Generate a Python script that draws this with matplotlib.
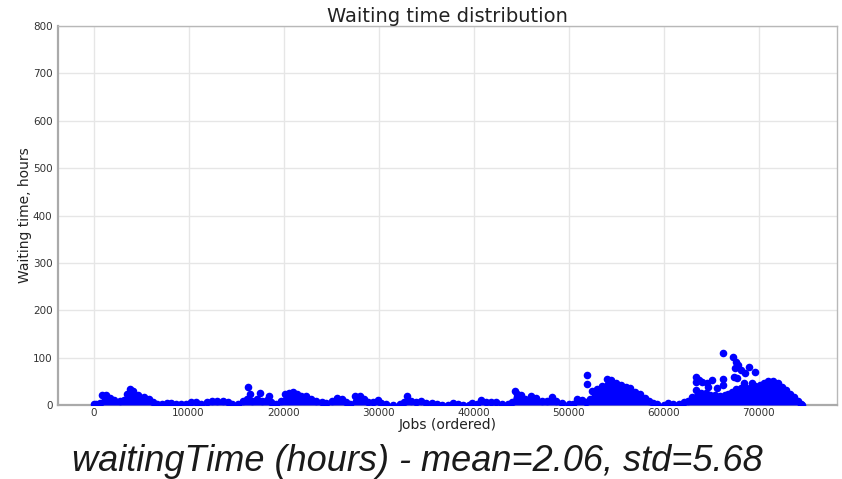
import matplotlib
matplotlib.use("Agg")
import matplotlib.pyplot as plt

# upper edge of the dense mass of jobs (job index, waiting hours)
env_x = [0, 300, 700, 900, 1300, 1700, 2200, 2800, 3200, 3500, 3800, 4200,
         4700, 5300, 5800, 6300, 6700, 7200, 7700, 8200, 8700, 9200, 9700,
         10300, 10800, 11300, 11900, 12500, 13000, 13600, 14100, 14600,
         15200, 15700, 16200, 16700, 17200, 17700, 18300, 18700, 19200,
         19700, 20100, 20600, 21000, 21400, 21800, 22400, 22900, 23400,
         24000, 24500, 25100, 25600, 26100, 26600, 27000, 27500, 28000,
         28500, 28900, 29400, 29900, 30300, 30800, 31500, 32200, 32700,
         33000, 33400, 33900, 34500, 35000, 35600, 36100, 36700, 37300,
         37800, 38300, 38900, 39500, 39800, 40300, 40800, 41300, 41800,
         42400, 43000, 43600, 44000, 44300, 44600, 45000, 45400, 46000,
         46600, 47200, 47700, 48200, 48700, 49300, 50000, 50500, 50900,
         51400, 51800, 52200, 52500, 53000, 53500, 54000, 54500, 55000,
         55500, 56000, 56500, 57000, 57500, 58000, 58500, 58900, 59300,
         60000, 60500, 61000, 61600, 62100, 62600, 63000, 63400, 63900,
         64400, 64900, 65400, 65900, 66400, 66800, 67200, 67600, 68100,
         68600, 69100, 69600, 70100, 70500, 71000, 71500, 72000, 72400,
         72900, 73300, 73700, 74100, 74400, 74600]
env_y = [2, 2, 4, 21, 22, 14, 11, 9, 10, 24, 33, 30,
         22, 16, 13, 6, 2, 2, 5, 4, 2, 2, 2,
         6, 7, 2, 7, 8, 8, 8, 7, 2,
         3, 9, 12, 8, 12, 8, 10, 6, 2,
         8, 23, 26, 27, 24, 18, 20, 13, 9,
         6, 5, 9, 14, 13, 6, 2, 20, 19,
         13, 7, 6, 10, 5, 2, 1, 2, 6,
         18, 9, 6, 9, 5, 5, 2, 1, 1,
         5, 2, 1, 1, 5, 2, 10, 7, 7,
         6, 2, 2, 6, 29, 24, 22, 13, 19,
         14, 8, 8, 17, 8, 5, 2, 3, 12,
         10, 6, 12, 29, 34, 40, 54, 53, 46,
         42, 38, 36, 27, 23, 14, 8, 4, 2,
         1, 4, 2, 2, 6, 9, 16, 32, 26,
         26, 22, 21, 20, 22, 24, 28, 34, 36,
         38, 36, 40, 42, 46, 50, 50, 46, 38,
         31, 24, 17, 8, 3, 1]

# isolated jobs standing above the mass
out_x = [16300, 16500, 17500, 18500, 51900, 51900, 63400, 63400, 63700,
         64000, 64500, 64700, 65100, 65600, 66200, 66200, 66200, 67300,
         67600, 67800, 67500, 68100, 69000, 69600, 68600, 67400, 67700,
         68400, 69300]
out_y = [38, 23, 25, 19, 63, 44, 60, 48, 53,
         49, 46, 39, 53, 36, 55, 42, 110, 101,
         91, 84, 78, 74, 81, 70, 67, 60, 57,
         46, 46]

y_ticks = [0, 100, 200, 300, 400, 500, 600, 700, 800]
x_ticks = [0, 10000, 20000, 30000, 40000, 50000, 60000, 70000]

summary = "waitingTime (hours) - mean=2.06, std=5.68"


def main():
    fig = plt.figure(figsize=(8.42, 4.79), dpi=100)
    ax = fig.add_axes([0.069, 0.1545, 0.925, 0.791])

    ax.fill_between(env_x, 0, env_y, color="blue", linewidth=0, zorder=3)
    ax.scatter(env_x, env_y, s=30, color="blue", linewidths=0, zorder=3)
    ax.scatter(out_x, out_y, s=30, color="blue", linewidths=0, zorder=3)

    ax.set_xlim(-3725, 78225)
    ax.set_ylim(0, 800)
    ax.set_xticks(x_ticks)
    ax.set_yticks(y_ticks)
    ax.tick_params(length=0, labelsize=7.5, labelcolor="#333333", pad=4)
    ax.tick_params(axis="x", pad=2.5)
    ax.grid(True, color="#e6e6e6", linewidth=1)
    ax.set_axisbelow(True)
    for side in ["top", "right"]:
        ax.spines[side].set_color("#b8b8b8")
        ax.spines[side].set_linewidth(1)
    for side in ["left", "bottom"]:
        ax.spines[side].set_color("#aaaaaa")
        ax.spines[side].set_linewidth(1.6)

    ax.set_title("Waiting time distribution", fontsize=14, color="#222222",
                 pad=0)
    ax.set_xlabel("Jobs (ordered)", fontsize=10, color="#222222",
                  labelpad=0)
    ax.set_ylabel("Waiting time, hours", fontsize=10, color="#222222")
    ax.yaxis.set_label_coords(-0.033, 0.5)

    fig.text(417 / 842, 8 / 479, summary, ha="center", va="baseline",
             fontsize=26, style="italic",
             family="Liberation Sans", color="#1a1a1a")
    fig.savefig("out.png", dpi=100)


if __name__ == "__main__":
    main()
